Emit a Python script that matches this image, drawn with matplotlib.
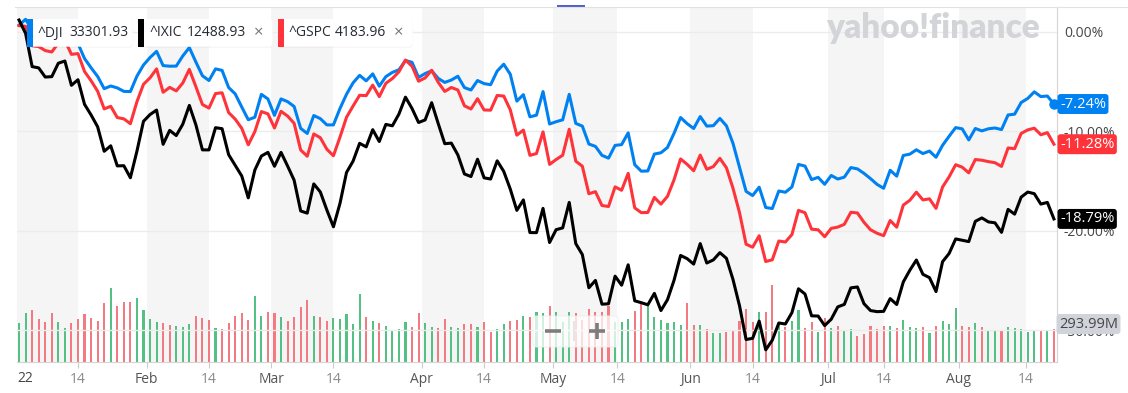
import numpy as np
import pandas as pd
import matplotlib
matplotlib.use("Agg")
import matplotlib.pyplot as plt
from matplotlib.patches import FancyBboxPatch, Rectangle

plt.rcParams['font.family'] = ['Open Sans', 'DejaVu Sans']

# trading days shown on the chart (Jan 3 - Aug 19 2022)
holidays = ['2022-01-17', '2022-02-21', '2022-04-15', '2022-05-30', '2022-06-20', '2022-07-04']
days = pd.bdate_range('2022-01-03', '2022-08-19', freq='C', holidays=holidays)

# % change since start of year
dji = [0.68, 1.27, 0.19, -0.28, -0.29, -0.74, -0.24, -0.13, -0.62, -1.17, -2.67, -3.60, -4.47, -5.70, -5.43, -5.62, -5.97, -5.99, -4.44, -3.32,
       -2.57, -1.95, -3.38, -3.44, -3.43, -2.41, -1.57, -3.02, -4.40, -4.88, -3.71, -3.86, -5.58, -6.22, -7.54, -8.82, -8.57, -6.27, -6.73,
       -8.38, -6.73, -7.00, -7.49, -9.69, -10.20, -8.40, -8.71, -9.34, -9.34, -7.69, -6.26, -5.11, -4.36, -4.91, -4.21, -5.45, -4.49, -4.06, -3.80, -2.87, -3.05, -4.57,
       -4.18, -3.90, -4.67, -5.07, -4.83, -4.45, -5.59, -5.83, -4.88, -5.19, -5.30, -3.93, -3.24, -4.25, -6.95, -6.30, -8.53, -8.36, -5.99, -9.25,
       -9.02, -8.83, -6.27, -9.19, -9.46, -11.26, -11.50, -12.40, -12.68, -11.40, -11.32, -10.14, -13.34, -13.99, -13.97, -12.27, -12.14, -11.61, -10.19, -8.60, -9.21,
       -9.70, -8.50, -9.46, -9.42, -8.69, -9.43, -11.19, -13.61, -16.02, -16.44, -15.60, -17.64, -17.75, -15.98, -16.11, -15.58, -13.31, -13.48, -14.84, -14.61, -15.31,
       -14.42, -14.78, -14.59, -13.63, -13.76, -14.21, -14.74, -15.32, -15.71, -13.90, -14.49, -12.41, -12.28, -11.84, -12.22, -11.97, -12.59, -11.39, -10.48, -9.61,
       -9.74, -10.85, -9.70, -9.94, -9.73, -9.65, -9.81, -8.34, -8.26, -7.09, -6.68, -6.02, -6.49, -6.44, -7.24]
ixic = [1.20, -0.14, -3.48, -3.61, -4.53, -4.49, -3.14, -2.92, -5.36, -4.80, -7.27, -8.34, -9.53, -11.99, -11.44, -13.46, -13.44, -14.65, -11.98, -8.98,
        -8.30, -7.85, -11.29, -9.89, -10.41, -9.27, -7.38, -9.33, -11.85, -11.85, -9.62, -9.72, -12.33, -13.40, -14.47, -16.67, -13.88, -12.47, -12.10,
        -13.50, -12.10, -13.47, -14.90, -17.99, -18.21, -15.27, -16.08, -17.90, -19.58, -17.23, -14.12, -12.98, -11.19, -11.55, -9.82, -11.01, -9.29, -9.43, -8.25, -6.55, -7.69, -9.10,
        -8.84, -7.11, -9.21, -11.23, -11.17, -12.36, -14.27, -14.53, -12.79, -14.66, -14.78, -12.95, -14.01, -15.79, -17.93, -16.88, -20.16, -20.17, -17.73, -21.16,
        -19.87, -19.69, -17.13, -21.27, -22.37, -25.71, -24.97, -27.36, -27.32, -24.54, -25.45, -23.40, -27.02, -27.21, -27.42, -26.27, -28.00, -26.91, -24.96, -22.46, -22.78,
        -23.33, -21.27, -23.22, -22.91, -22.18, -22.75, -24.87, -27.52, -30.91, -30.79, -29.06, -31.95, -30.98, -29.25, -29.35, -28.21, -25.81, -26.34, -28.53, -28.55, -29.51,
        -28.87, -27.63, -27.38, -25.72, -25.63, -27.31, -28.00, -28.11, -28.08, -26.80, -27.39, -25.13, -23.95, -22.92, -24.36, -24.69, -26.09, -23.09, -22.26, -20.80,
        -20.94, -21.07, -19.03, -18.69, -19.09, -19.18, -20.14, -17.83, -18.31, -16.60, -16.09, -16.25, -17.30, -17.13, -18.79]
gspc = [0.64, 0.57, -1.38, -1.47, -1.87, -2.01, -1.11, -0.84, -2.25, -2.17, -3.97, -4.90, -5.95, -7.73, -7.47, -8.60, -8.73, -9.22, -7.01, -5.26,
        -4.61, -3.71, -6.06, -5.57, -5.92, -5.13, -3.76, -5.50, -7.29, -7.65, -6.19, -6.11, -8.10, -8.76, -9.68, -11.34, -10.02, -8.00, -8.23,
        -9.65, -7.97, -8.45, -9.18, -11.86, -12.49, -10.25, -10.63, -11.79, -12.44, -10.57, -8.57, -7.44, -6.36, -6.40, -5.34, -6.50, -5.16, -4.68, -4.00, -2.82, -3.44, -4.95,
        -4.62, -3.85, -5.06, -5.98, -5.58, -5.83, -7.42, -7.74, -6.71, -7.84, -7.86, -6.38, -6.44, -7.82, -10.37, -9.86, -12.40, -12.22, -10.04, -13.31,
        -12.82, -12.39, -9.78, -12.99, -13.49, -16.26, -16.05, -17.44, -17.54, -15.57, -15.91, -14.21, -17.68, -18.16, -18.14, -16.63, -17.30, -16.52, -14.86, -12.76, -13.30,
        -13.95, -12.37, -13.80, -13.53, -12.70, -13.65, -15.70, -18.16, -21.33, -21.63, -20.48, -23.07, -22.90, -21.01, -21.11, -20.36, -17.93, -18.17, -19.82, -19.88, -20.58,
        -19.74, -19.61, -19.33, -18.12, -18.19, -19.13, -19.88, -20.23, -20.47, -18.95, -19.62, -17.40, -16.92, -16.10, -16.88, -16.77, -17.73, -15.58, -14.56, -13.34,
        -13.59, -14.16, -12.82, -12.89, -13.03, -13.14, -13.51, -11.66, -11.73, -10.20, -9.84, -9.67, -10.33, -10.12, -11.28]

# volume, millions
volume = [344, 433, 463, 383, 353, 433, 353, 305, 344, 383,
          425, 394, 365, 522, 661, 501, 537, 531, 572, 463,
          383, 359, 344, 329, 323, 314, 336, 409, 392, 374,
          303, 294, 344, 409, 433, 374, 587, 409, 442, 433,
          401, 365, 401, 490, 552, 409, 401, 365, 394, 383,
          425, 336, 605, 401, 365, 344, 323, 285, 294, 353,
          314, 433, 344, 314, 305, 383, 314, 305, 336, 336,
          314, 353, 264, 294, 336, 365, 374, 412, 403, 442,
          436, 498, 445, 356, 445, 436, 374, 469, 445, 445,
          498, 356, 356, 380, 457, 514, 498, 401, 374, 344,
          353, 329, 528, 332, 332, 291, 255, 261, 270, 285,
          362, 474, 359, 442, 442, 685, 329, 314, 362, 463,
          305, 353, 264, 394, 305, 323, 285, 294, 234, 247,
          323, 294, 323, 323, 305, 374, 314, 305, 314, 255,
          323, 365, 336, 483, 323, 314, 344, 314, 276, 276,
          285, 314, 305, 294, 264, 285, 285, 285, 293.99]

names = ['^DJI', '^IXIC', '^GSPC']
quotes = ['33301.93', '12488.93', '4183.96']
month_labels = ['Feb', 'Mar', 'Apr', 'May', 'Jun', 'Jul', 'Aug']
yticks = [0, -10, -20, -30]

BLUE, RED, BLACK = '#0081f2', '#ff333a', '#000000'
UP, DOWN = '#55c083', '#f27a80'

W, H = 1128, 393
fig = plt.figure(figsize=(W / 100, H / 100), dpi=100)
rect = [17 / W, 1 - 362 / H, (1057 - 17) / W, (362 - 7) / H]

x = np.arange(len(days))
dji = np.array(dji)
xlim = (-0.31, 158.47)

# tick positions on the trading-day axis
month_pos = [np.flatnonzero(days.month == m)[0] - 0.5 for m in range(2, 9)]
mid_pos = [np.interp(pd.Timestamp(2022, m, 14).value, days.asi8, x) for m in range(1, 9)]

# volume + shading underneath
axv = fig.add_axes(rect)
axv.set_xlim(*xlim)
for a, b in zip([xlim[0]] + month_pos, mid_pos):
    axv.axvspan(a, b, color='#f5f5f5', lw=0, zorder=0)
prev = np.concatenate([[0], dji[:-1]])
bar_colors = np.where(dji >= prev, UP, DOWN)
axv.bar(x, volume, width=0.32, color=bar_colors, zorder=2)
axv.set_ylim(0, 3160)
axv.axis('off')

# price lines
ax = fig.add_axes(rect, sharex=axv)
ax.patch.set_visible(False)
ax.plot(x, dji, color=BLUE, lw=2.2, zorder=3)
ax.plot(x, gspc, color=RED, lw=2.2, zorder=4)
ax.plot(x, ixic, color=BLACK, lw=2.2, zorder=5)
ax.plot(x[-1], dji[-1], 'o', ms=6.5, color=BLUE, zorder=6)
ax.set_xlim(*xlim)
ax.set_ylim(-33.17, 2.51)

for s in ['top', 'left']:
    ax.spines[s].set_visible(False)
for s in ['right', 'bottom']:
    ax.spines[s].set_color('#d4d4d4')
ax.yaxis.tick_right()
ax.set_yticks(yticks)
ax.set_yticklabels([f'{v:.2f}%' for v in yticks])
ax.tick_params(axis='y', length=0, pad=5, labelsize=10, labelcolor='#464646')
ax.grid(axis='y', color='#ececec', lw=1)

xt = month_pos + mid_pos
xl = month_labels + ['14'] * len(mid_pos)
ax.set_xticks(xt)
ax.set_xticklabels(xl)
ax.tick_params(axis='x', length=4, color='#cccccc', labelsize=10, pad=3)
for lab in ax.get_xticklabels():
    lab.set_color('#8a8a8a' if lab.get_text() == '14' else '#555555')

# last value tags on the right (they sit over the axis labels, as in the widget)
for val, c in [(dji[-1], BLUE), (gspc[-1], RED), (ixic[-1], BLACK)]:
    ax.annotate(f'{val:.2f}%', xy=(1, val), xycoords=ax.get_yaxis_transform(),
                xytext=(3, 0), textcoords='offset pixels', ha='left', va='center',
                color='white', fontsize=10.5, annotation_clip=False, zorder=10,
                bbox=dict(boxstyle='round,pad=0.17,rounding_size=0.2', fc=c, ec='none'))

# overlay in pixel coordinates for the widget decorations
ov = fig.add_axes([0, 0, 1, 1])
ov.set_xlim(0, W)
ov.set_ylim(H, 0)
ov.axis('off')
ov.patch.set_visible(False)

ov.plot([15, W], [7, 7], color='#e2e2e2', lw=0.8)
ov.add_patch(Rectangle((557, 4.5), 28, 2.5, color='#5060c8', lw=0))
ov.text(1059, 324, f'{volume[-1]:.2f}M', ha='left', va='center', fontsize=10.5, color='#464646',
        bbox=dict(boxstyle='round,pad=0.17,rounding_size=0.2', fc='#d0d4da', ec='none'))
ov.text(17, 378, '22', ha='left', va='center', fontsize=10, color='#444444')
ov.text(933, 38, 'yahoo!finance', ha='center', va='baseline', fontsize=24,
        family=['Lato', 'DejaVu Sans'], fontweight='heavy', color='#d2d4d8')

# legend chips
chips = [(27.3, 132.7, BLUE, 37.7, 69.0, None),
         (138.3, 272.7, BLACK, 149.0, 186.7, 259.0),
         (278.3, 412.7, RED, 288.3, 334.3, 399.0)]
for (x0, x1, c, nx, vx, cx), name, q in zip(chips, names, quotes):
    ov.add_patch(FancyBboxPatch((x0, 19.5), x1 - x0, 28, boxstyle='round,pad=0,rounding_size=3',
                                fc='#000000', alpha=0.06, ec='none'))
    ov.add_patch(FancyBboxPatch((x0, 19), x1 - x0, 27.7, boxstyle='round,pad=0,rounding_size=3',
                                fc='white', ec='none'))
    ov.add_patch(Rectangle((x0, 19), 5.2, 27.7, color=c, lw=0))
    ov.text(nx, 33, name, ha='left', va='center', fontsize=10, color='#232a31')
    ov.text(vx, 33, q, ha='left', va='center', fontsize=10, color='#232a31')
    if cx is not None:
        ov.text(cx, 33, '\u00d7', ha='center', va='center', fontsize=12, color='#6e7780')

# zoom control
ov.add_patch(FancyBboxPatch((533, 316), 85, 31, boxstyle='round,pad=0,rounding_size=3',
                            fc='white', alpha=0.75, ec='#eeeeee', lw=0.8))
ov.plot([545, 561], [331, 331], color='#7d7d7d', lw=2.6, solid_capstyle='butt')
ov.plot([589, 605], [331, 331], color='#7d7d7d', lw=2.6, solid_capstyle='butt')
ov.plot([597, 597], [323, 339], color='#7d7d7d', lw=2.6, solid_capstyle='butt')
ov.plot([574, 574], [322, 340], color='#e6e6e6', lw=1.5)

fig.savefig('out.png', dpi=100)
